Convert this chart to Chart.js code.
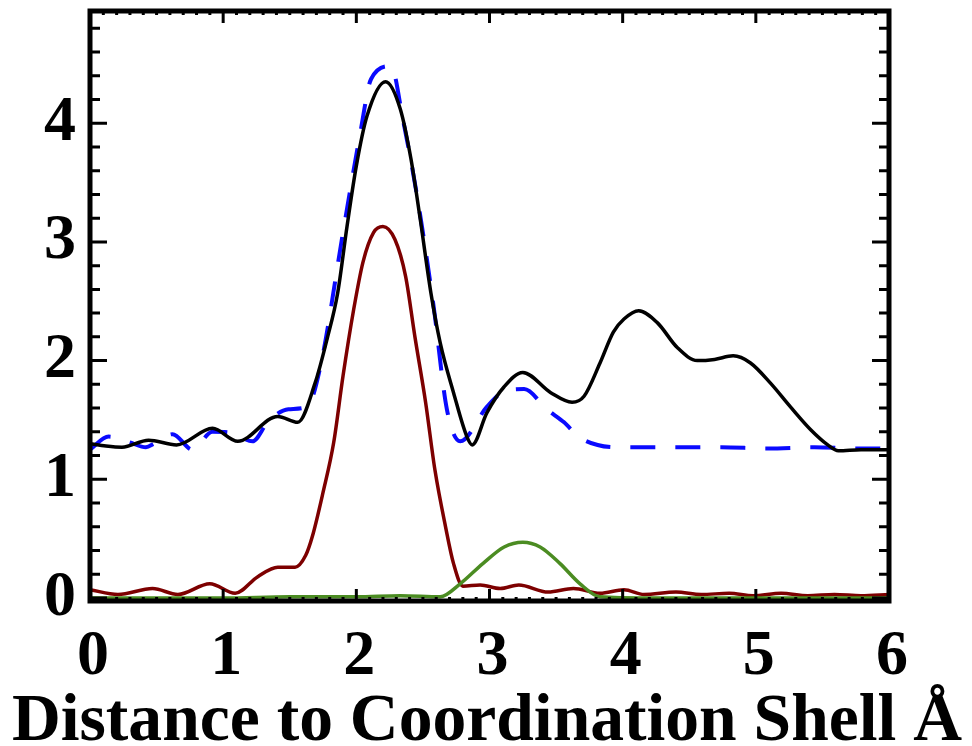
<!DOCTYPE html>
<html>
<head>
<meta charset="utf-8">
<script src="https://cdn.jsdelivr.net/npm/chart.js@4.4.1/dist/chart.umd.min.js"></script>
<style>
  html, body { margin: 0; padding: 0; background: #fff; }
  #wrap { width: 972px; height: 746px; }
</style>
</head>
<body>
<div id="wrap"><canvas id="rdfChart" width="972" height="746"></canvas></div>
<script>
// tick labels
const xTickLabels = ['0', '1', '2', '3', '4', '5', '6'];
const yTickLabels = ['0', '1', '2', '3', '4'];
const xTitle = 'Distance to Coordination Shell Å';

// total (black)
const totalX = [0, 0.12, 0.24, 0.44, 0.65, 0.92, 1.11, 1.41, 1.56, 1.69, 1.78, 1.86, 1.93, 2.0, 2.08, 2.22, 2.33, 2.41, 2.48, 2.56, 2.63, 2.73, 2.83, 2.87, 2.98, 3.11, 3.25, 3.46, 3.62, 3.71, 3.83, 3.93, 4.01, 4.12, 4.26, 4.41, 4.56, 4.69, 4.83, 4.96, 5.11, 5.26, 5.41, 5.54, 5.62, 5.79, 6.0];
const totalY = [1.30, 1.28, 1.27, 1.33, 1.29, 1.43, 1.32, 1.53, 1.48, 1.81, 2.18, 2.57, 3.13, 3.64, 4.06, 4.35, 4.12, 3.70, 3.19, 2.57, 2.15, 1.73, 1.36, 1.29, 1.56, 1.78, 1.90, 1.73, 1.65, 1.70, 1.98, 2.24, 2.35, 2.42, 2.32, 2.11, 2.00, 2.01, 2.04, 1.98, 1.81, 1.61, 1.42, 1.29, 1.24, 1.25, 1.25];

// fit (blue dashed)
const fitX = [0, 0.14, 0.30, 0.42, 0.48, 0.62, 0.77, 0.92, 1.07, 1.22, 1.34, 1.49, 1.63, 1.73, 1.90, 2.03, 2.11, 2.26, 2.35, 2.46, 2.58, 2.68, 2.78, 2.98, 3.11, 3.26, 3.43, 3.56, 3.68, 3.96, 4.34, 4.74, 5.09, 5.44, 5.79, 6.0];
const fitY = [1.25, 1.36, 1.31, 1.27, 1.30, 1.38, 1.25, 1.40, 1.39, 1.32, 1.49, 1.59, 1.61, 1.95, 3.08, 3.92, 4.37, 4.48, 4.03, 3.36, 2.46, 1.59, 1.32, 1.61, 1.74, 1.76, 1.59, 1.48, 1.35, 1.27, 1.27, 1.27, 1.26, 1.27, 1.26, 1.26];

// first shell (dark red)
const shell1X = [0, 0.21, 0.47, 0.66, 0.90, 1.09, 1.26, 1.41, 1.54, 1.62, 1.67, 1.75, 1.83, 1.90, 1.98, 2.05, 2.13, 2.20, 2.29, 2.37, 2.44, 2.52, 2.59, 2.67, 2.73, 2.80, 2.93, 3.08, 3.22, 3.44, 3.63, 3.83, 4.01, 4.16, 4.40, 4.59, 4.80, 4.98, 5.19, 5.39, 5.59, 5.79, 6.0];
const shell1Y = [0.07, 0.03, 0.08, 0.03, 0.12, 0.04, 0.18, 0.26, 0.26, 0.36, 0.52, 0.89, 1.31, 1.87, 2.43, 2.83, 3.08, 3.13, 3.02, 2.71, 2.20, 1.65, 1.08, 0.60, 0.29, 0.10, 0.11, 0.08, 0.11, 0.05, 0.08, 0.04, 0.07, 0.03, 0.05, 0.03, 0.04, 0.02, 0.04, 0.02, 0.03, 0.02, 0.03];

// second shell (green)
const shell2X = [0, 0.5, 1.0, 1.5, 2.0, 2.33, 2.63, 2.78, 2.95, 3.11, 3.25, 3.38, 3.53, 3.68, 3.83, 4.2, 5.0, 6.0];
const shell2Y = [0.0, 0.0, 0.0, 0.01, 0.01, 0.02, 0.01, 0.12, 0.29, 0.43, 0.47, 0.43, 0.29, 0.12, 0.01, 0.0, 0.0, 0.0];

const toPoints = (xs, ys) => xs.map((x, i) => ({ x: x, y: ys[i] }));

const serif = 'Liberation Serif, Times New Roman, serif';

// рамка, внутренние засечки и подпись оси X
const frameTicks = {
    id: 'frameTicks',
    afterDraw(chart) {
        const ctx = chart.ctx;
        const a = chart.chartArea;
        const xs = chart.scales.x;
        const ys = chart.scales.y;
        ctx.save();
        ctx.strokeStyle = '#000';
        ctx.lineWidth = 3;
        ys.ticks.forEach(t => {
            const major = Math.abs(t.value - Math.round(t.value)) < 1e-6;
            const len = major ? 17 : 10;
            const py = ys.getPixelForValue(t.value);
            ctx.beginPath();
            ctx.moveTo(a.left, py); ctx.lineTo(a.left + len, py);
            ctx.moveTo(a.right, py); ctx.lineTo(a.right - len, py);
            ctx.stroke();
        });
        xs.ticks.forEach(t => {
            const major = Math.abs(t.value - Math.round(t.value)) < 1e-6;
            const len = major ? 12 : 4;
            const px = xs.getPixelForValue(t.value);
            ctx.beginPath();
            ctx.moveTo(px, a.bottom); ctx.lineTo(px, a.bottom - len);
            ctx.moveTo(px, a.top); ctx.lineTo(px, a.top + len);
            ctx.stroke();
        });
        ctx.lineWidth = 5;
        ctx.strokeRect(a.left, a.top, a.right - a.left, a.bottom - a.top);

        // подпись оси: ширина ~950px, как на исходнике
        ctx.font = 'bold 100px ' + serif;
        const w100 = ctx.measureText(xTitle).width;
        const size = Math.min(72, 100 * 950 / w100);
        ctx.font = 'bold ' + size.toFixed(1) + 'px ' + serif;
        ctx.fillStyle = '#000';
        ctx.textAlign = 'center';
        ctx.textBaseline = 'alphabetic';
        ctx.fillText(xTitle, 487, 740);
        ctx.restore();
    }
};

new Chart(document.getElementById('rdfChart').getContext('2d'), {
    type: 'line',
    data: {
        datasets: [{
            label: 'Total',
            data: toPoints(totalX, totalY),
            borderColor: '#000000',
            borderWidth: 3.5,
            pointRadius: 0,
            cubicInterpolationMode: 'monotone'
        }, {
            label: 'Fit',
            data: toPoints(fitX, fitY),
            borderColor: '#0a0aff',
            borderWidth: 4,
            borderDash: [25, 20],
            pointRadius: 0,
            cubicInterpolationMode: 'monotone'
        }, {
            label: 'Shell 2',
            data: toPoints(shell2X, shell2Y),
            borderColor: '#4b8c22',
            borderWidth: 3.5,
            pointRadius: 0,
            cubicInterpolationMode: 'monotone'
        }, {
            label: 'Shell 1',
            data: toPoints(shell1X, shell1Y),
            borderColor: '#7d0000',
            borderWidth: 3.5,
            pointRadius: 0,
            cubicInterpolationMode: 'monotone'
        }]
    },
    options: {
        responsive: false,
        animation: false,
        layout: { padding: { top: 11, right: 83, left: 0, bottom: 0 } },
        plugins: {
            legend: { display: false },
            tooltip: { enabled: false }
        },
        scales: {
            x: {
                type: 'linear',
                min: 0,
                max: 6,
                afterFit(scale) {
                    scale.height = 145;
                    scale.paddingLeft = 0;
                    scale.paddingRight = 0;
                },
                grid: { display: false, drawTicks: false },
                border: { display: false },
                ticks: {
                    stepSize: 0.1,
                    autoSkip: false,
                    maxRotation: 0,
                    includeBounds: false,
                    padding: 18,
                    labelOffset: 3,
                    color: '#000',
                    font: { family: serif, size: 64, weight: 'bold' },
                    callback: function(value) {
                        const r = Math.round(value);
                        return Math.abs(value - r) < 1e-6 ? xTickLabels[r] : '';
                    }
                }
            },
            y: {
                min: -0.025,
                max: 4.945,
                afterFit(scale) {
                    scale.width = 90;
                    scale.paddingTop = 0;
                    scale.paddingBottom = 0;
                },
                grid: { display: false, drawTicks: false },
                border: { display: false },
                ticks: {
                    stepSize: 0.2,
                    autoSkip: false,
                    includeBounds: false,
                    padding: 14,
                    color: '#000',
                    font: { family: serif, size: 64, weight: 'bold' },
                    callback: function(value) {
                        const r = Math.round(value);
                        return Math.abs(value - r) < 1e-6 ? (yTickLabels[r] || '') : '';
                    }
                }
            }
        }
    },
    plugins: [frameTicks]
});
</script>
</body>
</html>
